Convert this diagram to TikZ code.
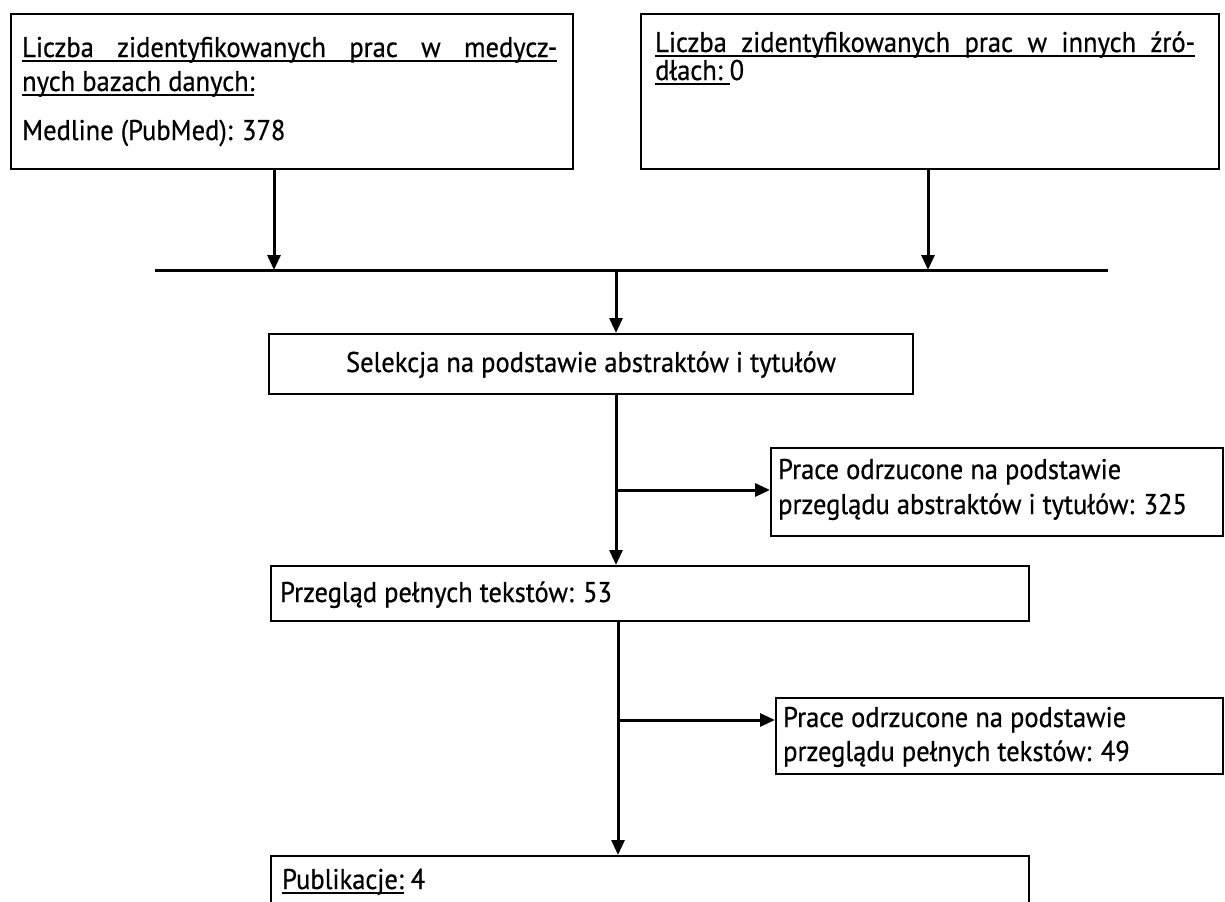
\documentclass[tikz,border=0pt]{standalone}
\usepackage{fontspec}
\setmainfont{PT Sans}[FakeStretch=0.93,FakeBold=0.6]
\usetikzlibrary{arrows.meta,calc}
\newsavebox\ulbox
\newcommand\myul[1]{\sbox\ulbox{#1}\rlap{\rule[-4.5bp]{\wd\ulbox}{1.8bp}}\usebox\ulbox\relax}
\tikzset{
  box/.style={draw, line width=2.3bp, inner sep=0pt, anchor=north west},
  txt/.style={inner sep=0pt, anchor=base west, font=\fontsize{28.5bp}{32bp}\selectfont},
  conn/.style={line width=3bp},
  arr/.style={line width=3bp, -{Triangle[length=15bp,width=13bp]}}
}
\begin{document}
\begin{tikzpicture}[x=1bp,y=-1bp]
\useasboundingbox[fill=white] (0,0) rectangle (1225,902);
% boxes
\node[box, minimum width=562bp, minimum height=155bp] (b1) at (10,13) {};
\node[box, minimum width=578bp, minimum height=155bp] (b2) at (640,13) {};
\node[box, minimum width=644bp, minimum height=60bp] (b3) at (268,333) {};
\node[box, minimum width=452bp, minimum height=88bp] (b5) at (770,447) {};
\node[box, minimum width=758bp, minimum height=55bp] (b4) at (270,565) {};
\node[box, minimum width=447bp, minimum height=76bp] (b6) at (775,697) {};
\node[box, minimum width=758bp, minimum height=60bp] (b7) at (270,855) {};
% texts
\node[txt] (t1a) at (22,57) {\myul{\makebox[535bp][s]{Liczba zidentyfikowanych prac w medycz-}}};
\node[txt] (t1b) at (22,91) {\myul{nych bazach danych:}};
\node[txt] (t1c) at (22,140) {Medline (PubMed): 378};
\node[txt] (t2a) at (655,52) {\myul{\makebox[540bp][s]{Liczba zidentyfikowanych prac w innych źró-}}};
\node[txt] (t2b) at (655,80) {\myul{dłach:\ }0};
\node[txt, anchor=base] (t3) at (591,372) {Selekcja na podstawie abstraktów i tytułów};
\node[txt] (t5a) at (778,479) {Prace odrzucone na podstawie};
\node[txt] (t5b) at (778,514) {przeglądu abstraktów i tytułów: 325};
\node[txt] (t4) at (280,602) {Przegląd pełnych tekstów: 53};
\node[txt] (t6a) at (783,727) {Prace odrzucone na podstawie};
\node[txt] (t6b) at (783,761) {przeglądu pełnych tekstów: 49};
\node[txt] (t7) at (282,889) {\myul{Publikacje:}\ 4};
% junction coordinates
\coordinate (j1) at (274,270);
\coordinate (j2) at (928,270);
\coordinate (hl) at (155,270);
\coordinate (hr) at (1108,270);
\coordinate (j3) at (616,270);
\coordinate (br1) at (616,490);
\coordinate (br2) at (618,720);
% connectors
\draw[arr] (b1.south -| j1) -- (j1);
\draw[arr] (b2.south -| j2) -- (j2);
\draw[conn] (hl) -- (hr);
\draw[arr] (j3) -- (j3 |- b3.north);
\draw[arr] (b3.south -| j3) -- (b4.north -| j3);
\draw[arr] (br1) -- (br1 -| b5.west);
\draw[arr] (b4.south -| br2) -- (b7.north -| br2);
\draw[arr] (br2) -- (br2 -| b6.west);
\end{tikzpicture}
\end{document}
